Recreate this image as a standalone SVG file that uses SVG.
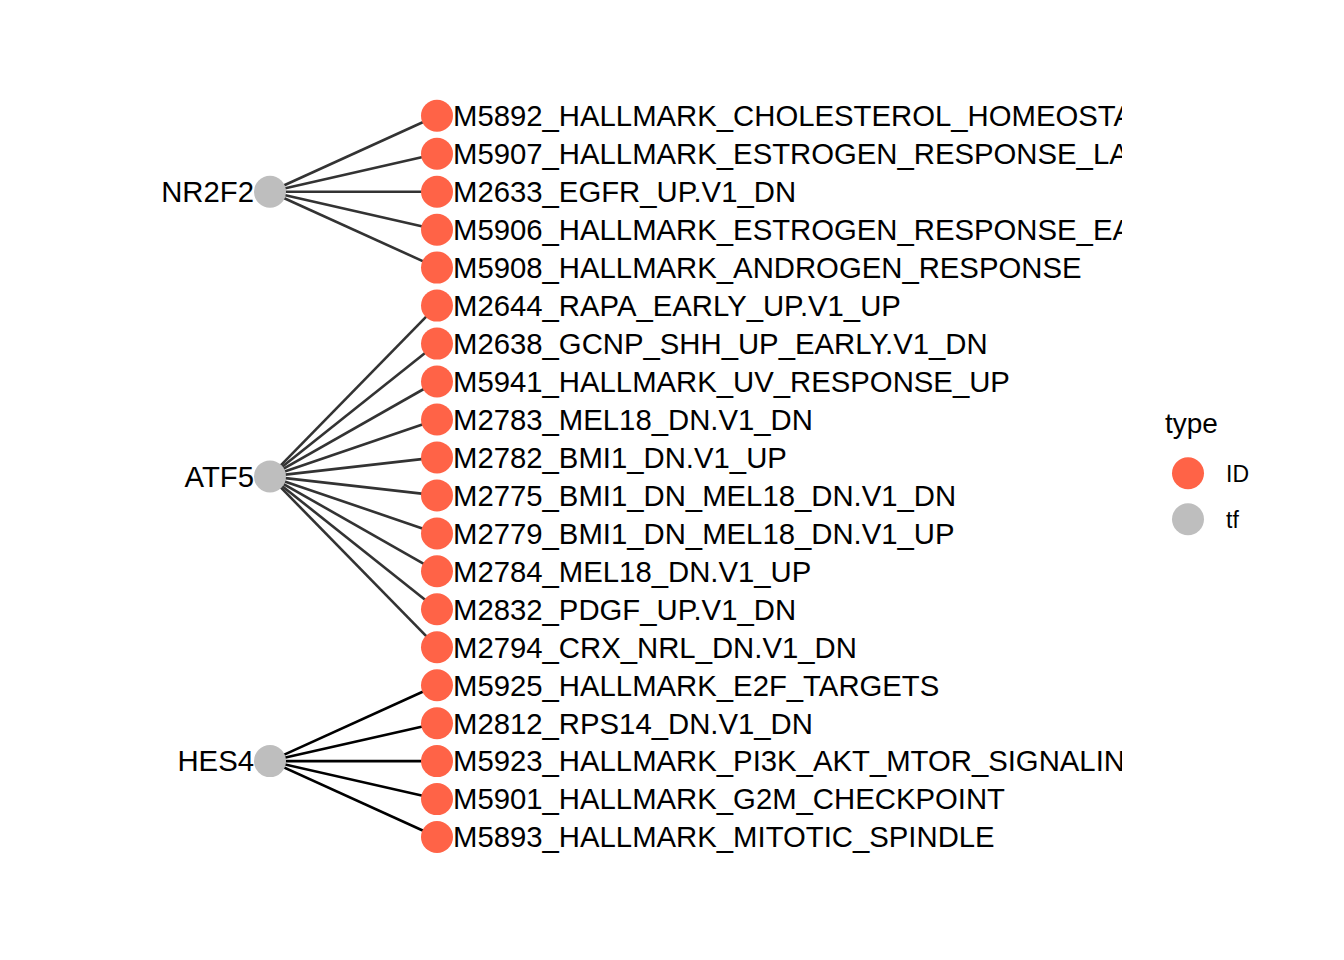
<svg xmlns="http://www.w3.org/2000/svg" width="1344" height="960" viewBox="0 0 1344 960">
<style>
.e1{stroke:#333333;stroke-width:2.6;fill:none}
.e2{stroke:#000000;stroke-width:2.6;fill:none}
.id{fill:#FF6347}
.tf{fill:#BEBEBE}
.lbl{font-family:"Liberation Sans",Arial,sans-serif;font-size:29.3px;fill:#000}
.tfl{font-family:"Liberation Sans",Arial,sans-serif;font-size:29.3px;fill:#000;text-anchor:end}
.ttl{font-family:"Liberation Sans",Arial,sans-serif;font-size:28px;fill:#000}
.leg{font-family:"Liberation Sans",Arial,sans-serif;font-size:23px;fill:#000}
</style>
<defs>
<clipPath id="clip"><rect x="0" y="0" width="1122" height="960"/></clipPath>
</defs>
<rect width="1344" height="960" fill="#FFFFFF"/>
<g id="connectors">
<line class="e1" x1="270" y1="191.7" x2="437" y2="115.8"/>
<line class="e1" x1="270" y1="191.7" x2="437" y2="153.8"/>
<line class="e1" x1="270" y1="191.7" x2="437" y2="191.7"/>
<line class="e1" x1="270" y1="191.7" x2="437" y2="229.7"/>
<line class="e1" x1="270" y1="191.7" x2="437" y2="267.6"/>
<line class="e1" x1="270" y1="476.4" x2="437" y2="305.6"/>
<line class="e1" x1="270" y1="476.4" x2="437" y2="343.6"/>
<line class="e1" x1="270" y1="476.4" x2="437" y2="381.5"/>
<line class="e1" x1="270" y1="476.4" x2="437" y2="419.5"/>
<line class="e1" x1="270" y1="476.4" x2="437" y2="457.4"/>
<line class="e1" x1="270" y1="476.4" x2="437" y2="495.4"/>
<line class="e1" x1="270" y1="476.4" x2="437" y2="533.4"/>
<line class="e1" x1="270" y1="476.4" x2="437" y2="571.3"/>
<line class="e1" x1="270" y1="476.4" x2="437" y2="609.3"/>
<line class="e1" x1="270" y1="476.4" x2="437" y2="647.2"/>
<line class="e2" x1="270" y1="761.1" x2="437" y2="685.2"/>
<line class="e2" x1="270" y1="761.1" x2="437" y2="723.2"/>
<line class="e2" x1="270" y1="761.1" x2="437" y2="761.1"/>
<line class="e2" x1="270" y1="761.1" x2="437" y2="799.1"/>
<line class="e2" x1="270" y1="761.1" x2="437" y2="837.0"/>
</g>
<g id="node-NR2F2"><circle class="tf" cx="270" cy="191.7" r="16"/><text class="tfl" x="254" y="202">NR2F2</text></g>
<g id="node-ATF5"><circle class="tf" cx="270" cy="476.4" r="16"/><text class="tfl" x="254" y="486.7">ATF5</text></g>
<g id="node-HES4"><circle class="tf" cx="270" cy="761.1" r="16"/><text class="tfl" x="254" y="771.4">HES4</text></g>
<g clip-path="url(#clip)">
<g id="node-M5892"><circle class="id" cx="437" cy="115.8" r="16"/><text class="lbl" x="453" y="126.1">M5892_HALLMARK_CHOLESTEROL_HOMEOSTASIS</text></g>
<g id="node-M5907"><circle class="id" cx="437" cy="153.8" r="16"/><text class="lbl" x="453" y="164.1">M5907_HALLMARK_ESTROGEN_RESPONSE_LATE</text></g>
<g id="node-M2633"><circle class="id" cx="437" cy="191.7" r="16"/><text class="lbl" x="453" y="202">M2633_EGFR_UP.V1_DN</text></g>
<g id="node-M5906"><circle class="id" cx="437" cy="229.7" r="16"/><text class="lbl" x="453" y="240">M5906_HALLMARK_ESTROGEN_RESPONSE_EARLY</text></g>
<g id="node-M5908"><circle class="id" cx="437" cy="267.6" r="16"/><text class="lbl" x="453" y="277.9">M5908_HALLMARK_ANDROGEN_RESPONSE</text></g>
<g id="node-M2644"><circle class="id" cx="437" cy="305.6" r="16"/><text class="lbl" x="453" y="315.9">M2644_RAPA_EARLY_UP.V1_UP</text></g>
<g id="node-M2638"><circle class="id" cx="437" cy="343.6" r="16"/><text class="lbl" x="453" y="353.9">M2638_GCNP_SHH_UP_EARLY.V1_DN</text></g>
<g id="node-M5941"><circle class="id" cx="437" cy="381.5" r="16"/><text class="lbl" x="453" y="391.8">M5941_HALLMARK_UV_RESPONSE_UP</text></g>
<g id="node-M2783"><circle class="id" cx="437" cy="419.5" r="16"/><text class="lbl" x="453" y="429.8">M2783_MEL18_DN.V1_DN</text></g>
<g id="node-M2782"><circle class="id" cx="437" cy="457.4" r="16"/><text class="lbl" x="453" y="467.7">M2782_BMI1_DN.V1_UP</text></g>
<g id="node-M2775"><circle class="id" cx="437" cy="495.4" r="16"/><text class="lbl" x="453" y="505.7">M2775_BMI1_DN_MEL18_DN.V1_DN</text></g>
<g id="node-M2779"><circle class="id" cx="437" cy="533.4" r="16"/><text class="lbl" x="453" y="543.7">M2779_BMI1_DN_MEL18_DN.V1_UP</text></g>
<g id="node-M2784"><circle class="id" cx="437" cy="571.3" r="16"/><text class="lbl" x="453" y="581.6">M2784_MEL18_DN.V1_UP</text></g>
<g id="node-M2832"><circle class="id" cx="437" cy="609.3" r="16"/><text class="lbl" x="453" y="619.6">M2832_PDGF_UP.V1_DN</text></g>
<g id="node-M2794"><circle class="id" cx="437" cy="647.2" r="16"/><text class="lbl" x="453" y="657.5">M2794_CRX_NRL_DN.V1_DN</text></g>
<g id="node-M5925"><circle class="id" cx="437" cy="685.2" r="16"/><text class="lbl" x="453" y="695.5">M5925_HALLMARK_E2F_TARGETS</text></g>
<g id="node-M2812"><circle class="id" cx="437" cy="723.2" r="16"/><text class="lbl" x="453" y="733.5">M2812_RPS14_DN.V1_DN</text></g>
<g id="node-M5923"><circle class="id" cx="437" cy="761.1" r="16"/><text class="lbl" x="453" y="771.4">M5923_HALLMARK_PI3K_AKT_MTOR_SIGNALING</text></g>
<g id="node-M5901"><circle class="id" cx="437" cy="799.1" r="16"/><text class="lbl" x="453" y="809.4">M5901_HALLMARK_G2M_CHECKPOINT</text></g>
<g id="node-M5893"><circle class="id" cx="437" cy="837.0" r="16"/><text class="lbl" x="453" y="847.3">M5893_HALLMARK_MITOTIC_SPINDLE</text></g>
</g>
<g id="legend">
<text class="ttl" x="1165" y="433">type</text>
<circle class="id" cx="1188" cy="473.3" r="16"/>
<text class="leg" x="1226" y="481.5">ID</text>
<circle class="tf" cx="1188" cy="519.3" r="16"/>
<text class="leg" x="1226" y="527.5">tf</text>
</g>
</svg>
